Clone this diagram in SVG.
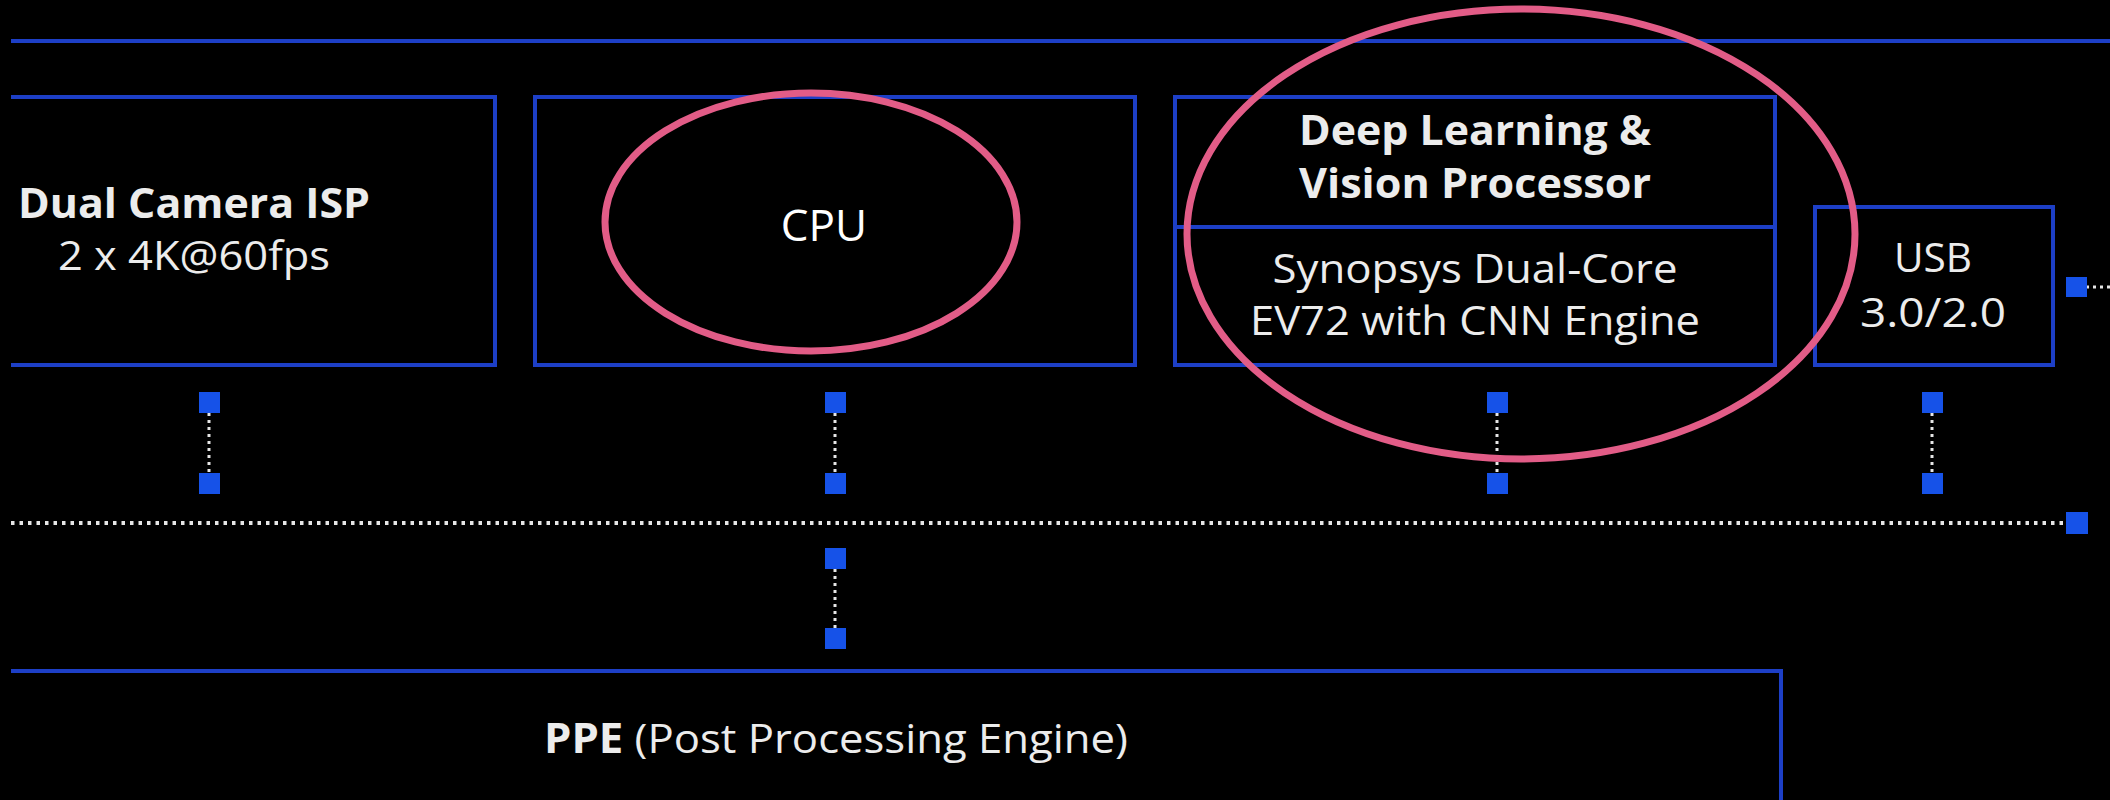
<svg xmlns="http://www.w3.org/2000/svg" width="2110" height="800" viewBox="0 0 2110 800">
<style>
.frame{fill:none;stroke:#1d3fc6;stroke-width:4}
.pt{fill:#1652e8}
.dot{fill:none;stroke:#e6e6e6;stroke-width:3;stroke-dasharray:3 4}
.bus{fill:none;stroke:#e6e6e6;stroke-width:4;stroke-dasharray:3.5 5}
.t{font-family:"Open Sans","Noto Sans","Liberation Sans",sans-serif;fill:#ececec;text-anchor:middle;font-size:41px}
.b{font-weight:bold}
.hl{fill:none;stroke:#e25c87;stroke-width:7}
</style>
<rect x="0" y="0" width="2110" height="800" fill="#000"/>
<g id="frame-top"><line class="frame" x1="11" y1="41" x2="2110" y2="41"/></g>
<g id="isp">
<path class="frame" d="M11 97 H495 V365 H11"/>
<text class="t b" x="194" y="218" textLength="352" lengthAdjust="spacingAndGlyphs">Dual Camera ISP</text>
<text class="t" x="194" y="270" textLength="272" lengthAdjust="spacingAndGlyphs">2 x 4K@60fps</text>
</g>
<g id="cpu">
<rect class="frame" x="535" y="97" width="600" height="268"/>
</g>
<g id="dlvp">
<rect class="frame" x="1175" y="97" width="600" height="268"/>
<line class="frame" x1="1175" y1="227" x2="1775" y2="227"/>
<text class="t b" x="1475" y="145" textLength="352" lengthAdjust="spacingAndGlyphs">Deep Learning &amp;</text>
<text class="t b" x="1475" y="198" textLength="352" lengthAdjust="spacingAndGlyphs">Vision Processor</text>
<text class="t" x="1475" y="283" fill="#dcdcdc" textLength="405" lengthAdjust="spacingAndGlyphs">Synopsys Dual-Core</text>
<text class="t" x="1475" y="335" fill="#dcdcdc" textLength="450" lengthAdjust="spacingAndGlyphs">EV72 with CNN Engine</text>
</g>
<g id="usb">
<rect class="frame" x="1815" y="207" width="238" height="158"/>
<text class="t" x="1933" y="272" textLength="78" lengthAdjust="spacingAndGlyphs">USB</text>
<text class="t" x="1933" y="327" textLength="146" lengthAdjust="spacingAndGlyphs">3.0/2.0</text>
</g>
<g id="ppe">
<path class="frame" d="M11 671 H1781 V800"/>
<text class="t" x="836" y="753" textLength="584" lengthAdjust="spacingAndGlyphs"><tspan class="b">PPE</tspan> (Post Processing Engine)</text>
</g>
<g id="connectors">
<line class="bus" x1="11" y1="523" x2="2068" y2="523"/>
<rect class="pt" x="2066" y="512" width="22" height="22"/>
<line class="dot" x1="209" y1="413" x2="209" y2="473"/>
<rect class="pt" x="199" y="392" width="21" height="21"/>
<rect class="pt" x="199" y="473" width="21" height="21"/>
<line class="dot" x1="835" y1="413" x2="835" y2="473"/>
<rect class="pt" x="825" y="392" width="21" height="21"/>
<rect class="pt" x="825" y="473" width="21" height="21"/>
<line class="dot" x1="835" y1="569" x2="835" y2="628"/>
<rect class="pt" x="825" y="548" width="21" height="21"/>
<rect class="pt" x="825" y="628" width="21" height="21"/>
<line class="dot" x1="1497" y1="413" x2="1497" y2="473"/>
<rect class="pt" x="1487" y="392" width="21" height="21"/>
<rect class="pt" x="1487" y="473" width="21" height="21"/>
<line class="dot" x1="1932" y1="413" x2="1932" y2="473"/>
<rect class="pt" x="1922" y="392" width="21" height="21"/>
<rect class="pt" x="1922" y="473" width="21" height="21"/>
<line class="dot" x1="2086" y1="287" x2="2110" y2="287"/>
<rect class="pt" x="2066" y="277" width="21" height="20"/>
</g>
<g id="highlights">
<ellipse class="hl" cx="811" cy="222" rx="206" ry="129"/>
<text x="824" y="241" font-family="'Open Sans','Noto Sans',sans-serif" font-size="44" fill="#fff" text-anchor="middle">CPU</text>
<ellipse class="hl" cx="1521" cy="234" rx="334" ry="225"/>
</g>
</svg>
